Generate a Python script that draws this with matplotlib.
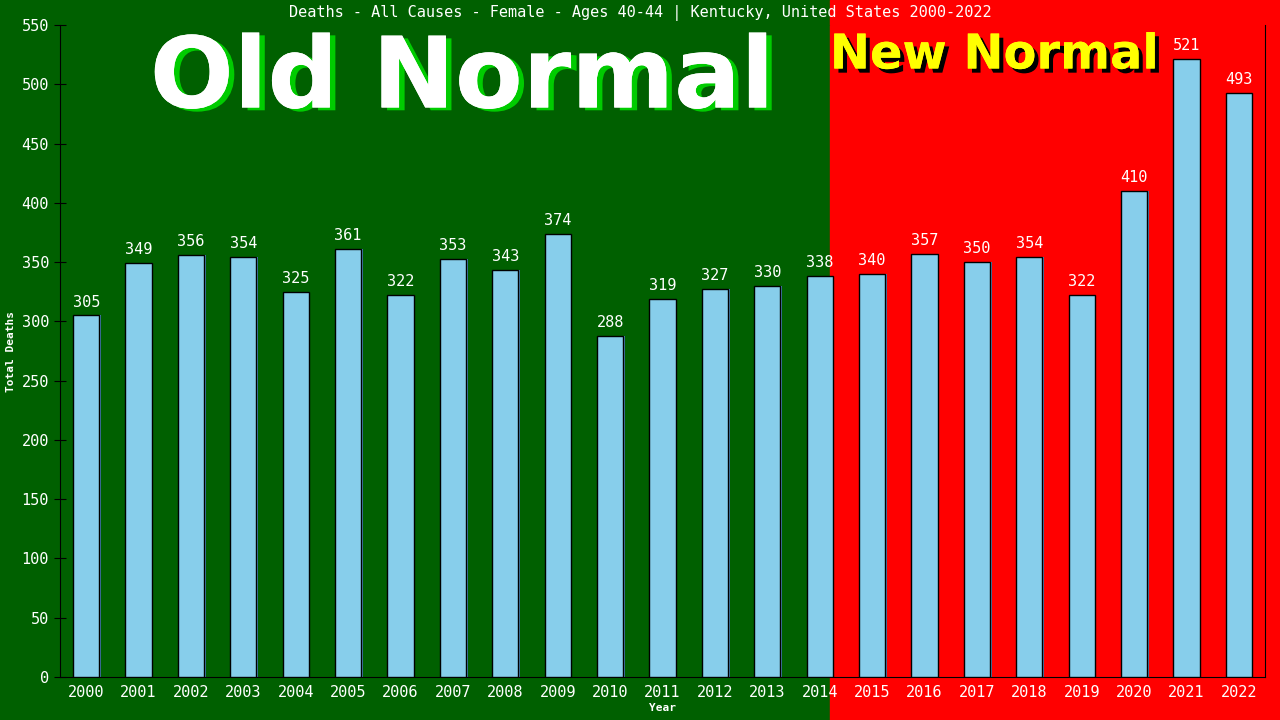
import matplotlib.pyplot as plt
import matplotlib.patheffects as pe
import numpy as np

years = [str(y) for y in range(2000, 2023)]
deaths = [305, 349, 356, 354, 325, 361, 322, 353, 343, 374, 288, 319,
          327, 330, 338, 340, 357, 350, 354, 322, 410, 521, 493]
yticks = list(range(0, 551, 50))
title = "Deaths - All Causes - Female - Ages 40-44 | Kentucky, United States 2000-2022"

mono = "DejaVu Sans Mono"
green = "#006000"
red = "#ff0000"

fig = plt.figure(figsize=(12.8, 7.2), dpi=100)
fig.patch.set_facecolor(green)
ax = fig.add_axes([60 / 1280, 43 / 720, 1205 / 1280, 652 / 720])
ax.set_facecolor("none")

x = np.arange(len(years))
split = 14.2

# background halves
ax.axvspan(-0.5, split, color=green, zorder=0)
ax.axvspan(split, len(years) - 0.5, color=red, zorder=0)
# red extends to the right edge of the figure
fig.patches.append(plt.Rectangle((830 / 1280, 0), 450 / 1280, 1,
                                 transform=fig.transFigure, color=red, zorder=-1))

# bar shadow then bars
ax.bar(x + 0.03, deaths, width=0.5, color="#4682b4", zorder=2)
ax.bar(x, deaths, width=0.5, color="#87ceeb", edgecolor="black", linewidth=1, zorder=3)

for xi, v in zip(x, deaths):
    ax.text(xi, v + 5, str(v), ha="center", va="bottom", color="white",
            fontsize=11, family=mono, zorder=4)

ax.set_xlim(-0.5, len(years) - 0.5)
ax.set_ylim(0, 550)
ax.set_xticks(x)
ax.set_xticklabels(years, family=mono, fontsize=11, color="white")
ax.set_yticks(yticks)
ax.set_yticklabels([str(t) for t in yticks], family=mono, fontsize=11, color="white")
ax.tick_params(axis="x", length=0, pad=6)
ax.tick_params(axis="y", direction="inout", length=8, color="black", pad=4)
for s in ["left", "bottom", "right"]:
    ax.spines[s].set_color("black")
ax.spines["top"].set_visible(False)

ax.set_xlabel("Year", family=mono, fontsize=8, fontweight="bold", color="white", labelpad=2)
ax.set_ylabel("Total Deaths", family=mono, fontsize=8, fontweight="bold", color="white", labelpad=4)

fig.text(0.5, 1 - 13 / 720, title, ha="center", va="center", color="white",
         family=mono, fontsize=11)

fig.text(462 / 1280, 1 - 80 / 720, "Old Normal", ha="center", va="center",
         color="white", fontsize=71, fontweight="bold", family="DejaVu Sans",
         path_effects=[pe.withSimplePatchShadow(offset=(4, -2), shadow_rgbFace="#00cc00", alpha=1),
                       pe.Normal()])
fig.text(994 / 1280, 1 - 55 / 720, "New Normal", ha="center", va="center",
         color="#ffff00", fontsize=34.5, fontweight="bold", family="DejaVu Sans",
         path_effects=[pe.withSimplePatchShadow(offset=(3, -3), shadow_rgbFace="black", alpha=1),
                       pe.Normal()])

fig.savefig("out.png", dpi=100, facecolor=fig.get_facecolor())
